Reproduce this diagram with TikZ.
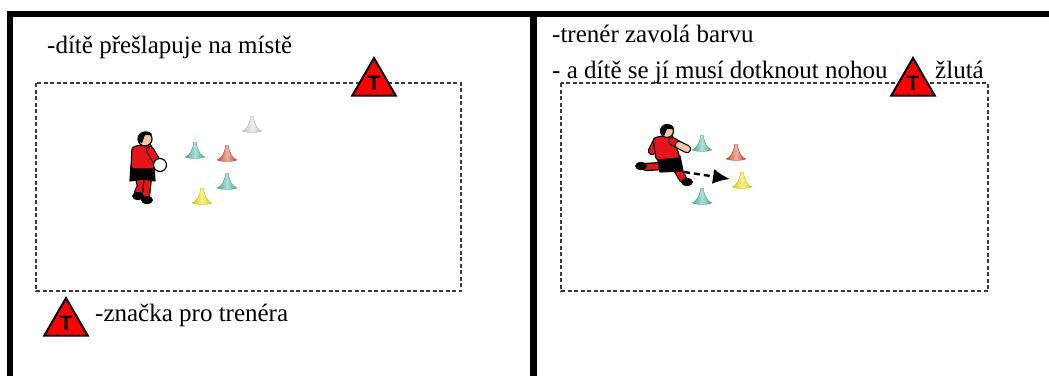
\documentclass[tikz,border=0pt]{standalone}
\usepackage{fontspec}
\setmainfont{Liberation Serif}
\setsansfont{Liberation Sans}
\usepackage{xcolor}
\usepackage{tikz}
\usetikzlibrary{arrows.meta, shapes.geometric}
\definecolor{Ink}{HTML}{000000}
\definecolor{Fence}{HTML}{3A3A3A}
\definecolor{SignRed}{HTML}{FF0000}
\definecolor{Shirt}{HTML}{E8141B}
\definecolor{Skin}{HTML}{F3C8A2}
\definecolor{ConeTeal}{HTML}{4FB8AA}
\definecolor{ConeRed}{HTML}{E04A2E}
\definecolor{ConeYellow}{HTML}{F7E000}
\definecolor{ConeWhite}{HTML}{D8D8D8}

\begin{document}
\begin{tikzpicture}[x=1pt, y=-1pt,
  font=\fontsize{25}{30}\selectfont,
  frame/.style={line width=6pt, draw=Ink},
  pitch/.style={draw=Fence, line width=1.1pt, dash pattern=on 4pt off 2.5pt},
  note/.style={anchor=base west, inner sep=0pt},
  sign/.style={regular polygon, regular polygon sides=3, minimum size=50pt, inner sep=0pt, fill=SignRed, draw=Ink, line width=2pt, font=\sffamily\bfseries\fontsize{21}{21}\selectfont},
  kick/.style={-{Latex[length=17pt, width=15pt]}, line width=2.4pt, dash pattern=on 6pt off 4pt, draw=Ink},
  outline/.style={draw=Ink, line width=1.2pt, line join=round},
  limb/.style={draw=Ink, line width=1.2pt, double=#1, double distance=6pt, line cap=round},
  pics/cone/.style={code={
    \shade[left color=#1!90!black, right color=#1!90!black, middle color=#1!45!white, draw=#1!80!black, line width=0.3pt]
      (-10,0) .. controls (-4.5,-1.5) and (-2.8,-8.5) .. (-1.8,-11.5) -- (-1.8,-14.5) -- (1.8,-14.5) -- (1.8,-11.5)
      .. controls (2.8,-8.5) and (4.5,-1.5) .. (10,0) .. controls (4,2) and (-4,2) .. cycle;
  }}
]
\useasboundingbox (0,0) rectangle (1049,376);

% panels and training areas
\draw[frame] (1049,14) -- (10,14) -- (10,376);
\draw[frame, line width=7pt] (533,14) -- (533,376);
\draw[pitch] (36,83) rectangle (461,291);
\draw[pitch] (561,83) rectangle (988,291);

% texts
\node[note] (stepping) at (47,53) {-dítě přešlapuje na místě};
\node[note] (call) at (552,42) {-trenér zavolá barvu};
\node[note] (touch) at (552,78) {- a dítě se jí musí dotknout nohou};
\node[note] (colour) at (935,78) {žlutá};
\node[note] (legend) at (95,321) {-značka pro trenéra};

% coach marks
\node[sign] (coachA) at (374,83) {T};
\node[sign] (coachB) at (913,83) {T};
\node[sign] (coachKey) at (66,323) {T};

% cones, left area
\pic at (252,131) {cone=ConeWhite};
\pic at (195,157) {cone=ConeTeal};
\pic at (227,160) {cone=ConeRed};
\pic at (227,188) {cone=ConeTeal};
\pic at (202,203) {cone=ConeYellow};

% cones, right area
\pic at (702,150) {cone=ConeTeal};
\pic at (736,159) {cone=ConeRed};
\pic at (742,187) {cone=ConeYellow};
\pic at (702,203) {cone=ConeTeal};

% child stepping on the spot
\draw[limb=Shirt] (139,177) -- (141,186) -- (138,193);
\draw[limb=Shirt] (148,177) -- (146,195);
\fill[Ink] (138,196) ellipse (6 and 4);
\fill[Ink] (147,200) ellipse (6 and 4);
\draw[outline, fill=Ink] (131,165) -- (154,165) -- (155,181) -- (143,179) -- (130,181) -- cycle;
\draw[outline, fill=Shirt, rounded corners=3pt] (132,147) -- (150,143) -- (157,160) -- (155,169) -- (131,169) -- cycle;
\draw[limb=Shirt] (150,150) -- (157,162);
\draw[outline, fill=white] (160,165) circle (6.5);
\draw[outline, fill=Skin] (145,139) circle (7);
\fill[Ink] (138,141) .. controls (137,131) and (151,129) .. (152,135) -- (145,135) -- (142,143) -- cycle;

% child kicking
\draw[limb=Shirt] (662,166) -- (646,167);
\fill[Ink] (641,166) ellipse (6 and 4);
\draw[limb=Shirt] (676,167) -- (683,179);
\fill[Ink] (687,182) ellipse (6 and 4);
\draw[outline, fill=Ink] (657,156) -- (680,156) -- (683,171) -- (660,172) -- cycle;
\draw[limb=Shirt] (657,141) -- (652,151);
\draw[outline, fill=Shirt, rounded corners=3pt] (653,138) -- (672,134) -- (680,158) -- (656,160) -- cycle;
\draw[limb=Shirt] (672,141) -- (679,145);
\draw[limb=Skin] (679,145) -- (687,149);
\draw[outline, fill=Skin] (667,131) circle (6.5);
\fill[Ink] (660.5,132) .. controls (660,123) and (673,122) .. (674,129) -- (667,129) -- (664,136) -- cycle;

% run to the called colour
\coordinate (foot) at (684,172);
\coordinate (target) at (730,179);
\draw[kick] (foot) -- (target);
\end{tikzpicture}
\end{document}
